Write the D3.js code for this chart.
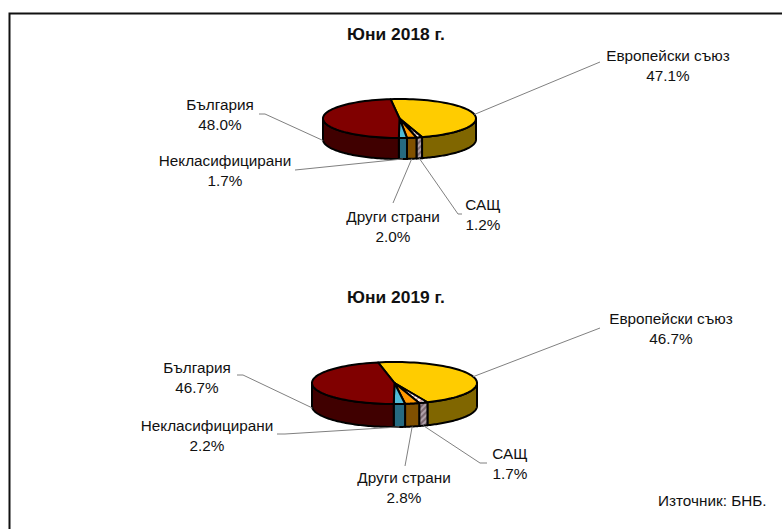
<!DOCTYPE html>
<html lang="bg">
<head>
<meta charset="utf-8">
<script src="https://cdn.jsdelivr.net/npm/d3@7/dist/d3.min.js"></script>
<style>
html,body{margin:0;padding:0;background:#fff;overflow:hidden}
svg{display:block}
text{font-family:"Liberation Sans",Arial,sans-serif;fill:#111}
</style>
</head>
<body>
<svg id="c" width="782" height="529"></svg>
<script>
// ---- data ----
const categories = ["Европейски съюз", "САЩ", "Други страни", "Некласифицирани", "България"];
const titles = ["Юни 2018 г.", "Юни 2019 г."];
const values2018 = [47.1, 1.2, 2.0, 1.7, 48.0];
const values2019 = [46.7, 1.7, 2.8, 2.2, 46.7];
const sourceNote = "Източник: БНБ.";

// ---- styles ----
const topFill = ["#FFCC00", "url(#hatchTop)", "#FF9900", "#4FB9D6", "#800000"];
const sideFill = ["#806600", "url(#hatchSide)", "#805000", "#266A80", "#400000"];

// ---- layout ----
const W = 782, H = 529, FS = 15.3;
const layouts = [
  { cx: 399.5, cy: 118.5, rx: 76.5, ry: 19.5, depth: 21, start: -6.7, titleY: 39.5,
    labels: [
      { x: 668, y: 61, leader: [[600, 62]] },
      { x: 483, y: 210, leader: [[458, 214], [462, 214]] },
      { x: 393, y: 222, leader: [[393, 203]] },
      { x: 225, y: 166, leader: [[305, 169], [295, 170]] },
      { x: 220, y: 110, leader: [[265, 114], [259, 114]] }
    ] },
  { cx: 394.5, cy: 383, rx: 82.5, ry: 21, depth: 23, start: -11.5, titleY: 302.5,
    labels: [
      { x: 671, y: 324, leader: [[600, 328]] },
      { x: 510, y: 459, leader: [[480, 463], [487, 463]] },
      { x: 404, y: 483, leader: [[405, 466]] },
      { x: 207, y: 431, leader: [[285, 434], [277, 434]] },
      { x: 197, y: 373, leader: [[243, 375], [237, 375]] }
    ] }
];

const svg = d3.select("#c");
const defs = svg.append("defs");
function hatch(id, base, stripe) {
  const p = defs.append("pattern").attr("id", id).attr("width", 4).attr("height", 4)
    .attr("patternUnits", "userSpaceOnUse").attr("patternTransform", "rotate(-45)");
  p.append("rect").attr("width", 4).attr("height", 4).attr("fill", base);
  p.append("rect").attr("width", 4).attr("height", 2).attr("fill", stripe);
}
hatch("hatchTop", "#ffffff", "#d9a8a8");
hatch("hatchSide", "#b0a0a8", "#7d6a72");

// outer frame
svg.append("path").attr("d", `M9.5,${H}V13.5H${W}`).attr("fill", "none")
  .attr("stroke", "#111").attr("stroke-width", 2);

const rad = d => d * Math.PI / 180;
const line = d3.line();

function drawPie(values, title, L) {
  const x = d3.scaleLinear([-1, 1], [L.cx - L.rx, L.cx + L.rx]);
  const y = d3.scaleLinear([-1, 1], [L.cy + L.ry, L.cy - L.ry]);
  const px = a => x(Math.sin(a)), py = a => y(Math.cos(a));
  const arcs = d3.pie().sort(null).value(d => d)
    .startAngle(rad(L.start)).endAngle(rad(L.start + 360))(values);
  const g = svg.append("g");

  const samples = (a0, a1) => d3.range(0, 61).map(i => a0 + (a1 - a0) * i / 60);

  // side walls: only the front half of the rim is visible
  const frontA = Math.PI / 2, frontB = 3 * Math.PI / 2;
  arcs.forEach((d, i) => {
    const a0 = Math.max(d.startAngle, frontA), a1 = Math.min(d.endAngle, frontB);
    if (a1 <= a0) return;
    const rim = samples(a0, a1);
    const pts = rim.map(a => [px(a), py(a)])
      .concat(rim.slice().reverse().map(a => [px(a), py(a) + L.depth]));
    g.append("path").attr("d", line(pts) + "Z").attr("fill", sideFill[i])
      .attr("stroke", "#000").attr("stroke-width", 2).attr("stroke-linejoin", "round");
  });

  // top face
  arcs.forEach((d, i) => {
    const pts = [[L.cx, L.cy]].concat(samples(d.startAngle, d.endAngle).map(a => [px(a), py(a)]));
    g.append("path").attr("d", line(pts) + "Z").attr("fill", topFill[i])
      .attr("stroke", "#000").attr("stroke-width", 2).attr("stroke-linejoin", "round");
  });

  // leaders and labels
  arcs.forEach((d, i) => {
    const mid = (d.startAngle + d.endAngle) / 2;
    const front = Math.cos(mid) < 0;
    const anchor = [px(mid), py(mid) + (front ? L.depth : 0)];
    const lab = L.labels[i];
    svg.append("path").attr("d", line([anchor].concat(lab.leader))).attr("fill", "none")
      .attr("stroke", "#808080").attr("stroke-width", 1);
    const t = svg.append("text").attr("text-anchor", "middle").attr("font-size", FS);
    t.append("tspan").attr("x", lab.x).attr("y", lab.y).text(categories[i]);
    t.append("tspan").attr("x", lab.x).attr("y", lab.y + 19.5).text(d3.format(".1f")(d.value) + "%");
  });

  svg.append("text").attr("x", 396).attr("y", L.titleY).attr("text-anchor", "middle")
    .attr("font-size", 17.4).attr("font-weight", "bold").text(title);
}

drawPie(values2018, titles[0], layouts[0]);
drawPie(values2019, titles[1], layouts[1]);

svg.append("text").attr("x", 658).attr("y", 506).attr("font-size", FS).text(sourceNote);
</script>
</body>
</html>
